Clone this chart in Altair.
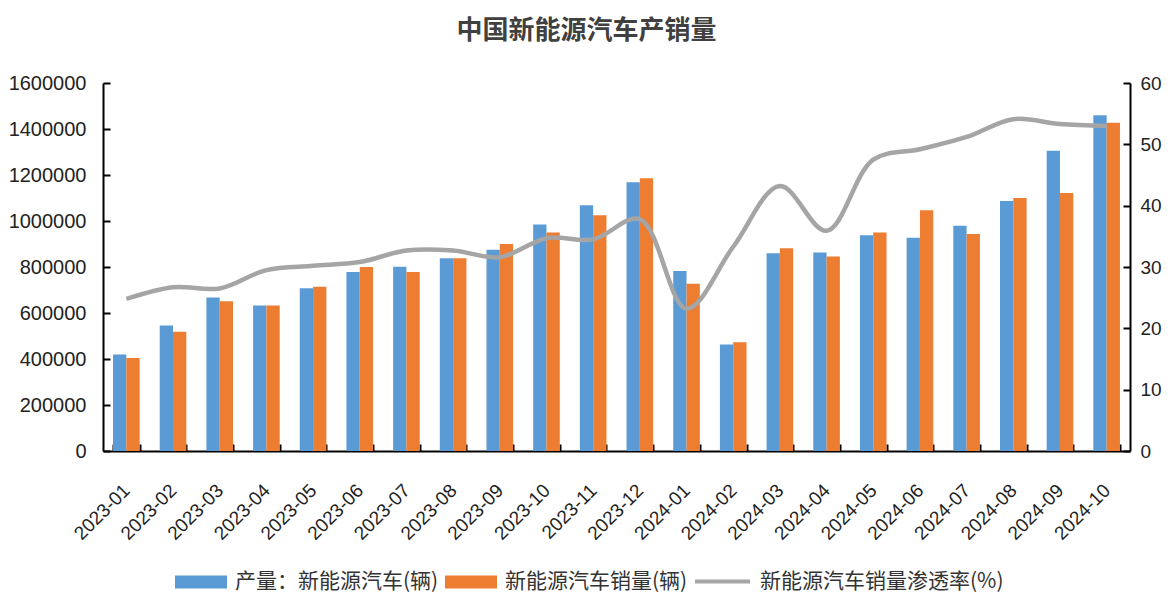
import altair as alt
import pandas as pd

months = ["2023-01", "2023-02", "2023-03", "2023-04", "2023-05", "2023-06",
          "2023-07", "2023-08", "2023-09", "2023-10", "2023-11", "2023-12",
          "2024-01", "2024-02", "2024-03", "2024-04", "2024-05", "2024-06",
          "2024-07", "2024-08", "2024-09", "2024-10"]
production = [420000, 546000, 667000, 633000, 708000, 778000,
              801000, 838000, 875000, 985000, 1068000, 1168000,
              783000, 463000, 860000, 863000, 938000, 927000,
              979000, 1087000, 1305000, 1460000]
sales = [404000, 518000, 651000, 633000, 714000, 800000,
         778000, 838000, 900000, 950000, 1025000, 1186000,
         727000, 473000, 882000, 846000, 950000, 1047000,
         943000, 1100000, 1122000, 1427000]
penetration = [24.8, 26.7, 26.5, 29.5, 30.2, 30.8,
               32.7, 32.7, 31.6, 34.7, 34.5, 37.8,
               23.2, 33.3, 43.2, 35.9, 47.5, 49.2,
               51.2, 54.1, 53.3, 53.0]

s_prod = "产量：新能源汽车(辆)"
s_sales = "新能源汽车销量(辆)"
s_rate = "新能源汽车销量渗透率(%)"

bar_df = pd.DataFrame({
    "month": months * 2,
    "series": [s_prod] * len(months) + [s_sales] * len(months),
    "value": production + sales,
})
line_df = pd.DataFrame({"month": months, "rate": penetration, "series": [s_rate] * len(months)})

num_font = "Liberation Sans"
cjk_font = "Noto Sans CJK SC"
PLOT_H = 368

x_enc = alt.X(
    "month:N", sort=months, title=None,
    scale=alt.Scale(paddingInner=0.43, paddingOuter=0.215),
    axis=alt.Axis(
        labelAngle=-45, labelAlign="right", labelBaseline="middle",
        labelPadding=36, labelFont=num_font, labelFontSize=19, labelColor="#222222",
        ticks=False, tickSize=0, tickBand="extent",
        grid=True, gridColor="black", gridWidth=2,
        gridDash=[7, PLOT_H - 7], gridDashOffset=7,
        domainColor="black", domainWidth=2, labelOverlap=False,
    ),
)

bars = alt.Chart(bar_df).mark_bar().encode(
    x=x_enc,
    xOffset=alt.XOffset("series:N", sort=[s_prod, s_sales],
                        scale=alt.Scale(paddingInner=0, paddingOuter=0)),
    y=alt.Y("value:Q", title=None,
            scale=alt.Scale(domain=[0, 1600000], nice=False),
            axis=alt.Axis(values=[0, 200000, 400000, 600000, 800000, 1000000,
                                  1200000, 1400000, 1600000],
                          format="d", labelFont=num_font, labelFontSize=20,
                          labelColor="#222222", labelPadding=17,
                          ticks=False, tickSize=0, grid=True, gridColor="black",
                          gridWidth=2, gridDash=[7, 3000],
                          domainColor="black", domainWidth=2)),
    color=alt.Color("series:N",
                    scale=alt.Scale(domain=[s_prod, s_sales], range=["#5B9BD5", "#ED7D31"]),
                    legend=alt.Legend(orient="none", direction="horizontal",
                                      legendX=72, legendY=473, title=None,
                                      symbolType="M-1,-0.25L1,-0.25L1,0.25L-1,0.25Z",
                                      symbolSize=2704, symbolStrokeWidth=0,
                                      labelFont=cjk_font, labelFontSize=21,
                                      labelColor="#333333", labelOffset=8,
                                      columnPadding=6, labelLimit=400)),
)

line = alt.Chart(line_df).mark_line(strokeWidth=4.5, interpolate="catmull-rom").encode(
    x=alt.X("month:N", sort=months),
    y=alt.Y("rate:Q", title=None,
            scale=alt.Scale(domain=[0, 60], nice=False),
            axis=alt.Axis(orient="right", values=[0, 10, 20, 30, 40, 50, 60],
                          labelFont=num_font, labelFontSize=19, labelColor="#222222",
                          labelPadding=10, ticks=False, tickSize=0, grid=True,
                          gridColor="black", gridWidth=2, gridDash=[7, 3000],
                          domainColor="black", domainWidth=2)),
    color=alt.Color("series:N",
                    scale=alt.Scale(domain=[s_rate], range=["#A5A5A5"]),
                    legend=alt.Legend(orient="none", legendX=590, legendY=469, title=None,
                                      symbolType="stroke", symbolSize=3025,
                                      symbolStrokeWidth=4,
                                      labelFont=cjk_font, labelFontSize=21,
                                      labelColor="#333333", labelOffset=8,
                                      labelLimit=400)),
)

chart = alt.layer(bars, line).resolve_scale(
    y="independent", color="independent"
).resolve_legend(color="independent").properties(
    width=1027, height=PLOT_H,
    autosize=alt.AutoSizeParams(type="none"),
    padding={"left": 95, "top": 75, "right": 33, "bottom": 145},
    title=alt.TitleParams("中国新能源汽车产销量", font=cjk_font, fontSize=26,
                          fontWeight="bold", color="#404040", anchor="middle",
                          dx=-30, offset=29),
).configure_view(stroke=None)

chart.save("out.html", embed_options={"renderer": "svg", "actions": False})
